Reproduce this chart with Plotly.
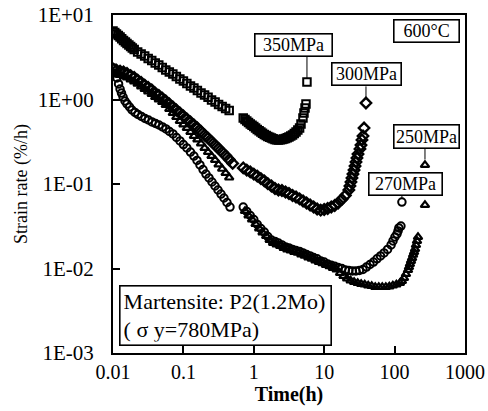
import plotly.graph_objects as go

# ---------------- data (time in h, strain rate in %/h) ----------------
t_350 = [0.0100, 0.0106, 0.0112, 0.0119, 0.0126, 0.0133, 0.0141, 0.0150, 0.0158, 0.0168,
         0.0178, 0.0188, 0.0200, 0.0224, 0.0251, 0.0282, 0.0316, 0.0355, 0.0398, 0.0447,
         0.0501, 0.0562, 0.0631, 0.0708, 0.0794, 0.0891, 0.100, 0.112, 0.126, 0.141,
         0.158, 0.178, 0.200, 0.224, 0.251, 0.282, 0.316, 0.355, 0.398, 0.447,
         0.708, 0.750, 0.794, 0.841, 0.891, 0.944, 1.00, 1.06, 1.12, 1.19,
         1.26, 1.33, 1.41, 1.50, 1.58, 1.68, 1.78, 1.88, 2.00, 2.11,
         2.24, 2.37, 2.51, 2.66, 2.82, 2.99, 3.16, 3.35, 3.55, 3.76,
         3.98, 4.22, 4.47, 4.68, 4.99, 5.16, 5.34, 5.51, 5.69]
r_350 = [6.47, 6.21, 5.96, 5.72, 5.49, 5.23, 4.99, 4.79, 4.60, 4.42,
         4.24, 4.07, 3.91, 3.65, 3.46, 3.27, 3.06, 2.89, 2.70, 2.56,
         2.39, 2.23, 2.12, 2.00, 1.87, 1.75, 1.66, 1.55, 1.44, 1.37,
         1.28, 1.19, 1.13, 1.06, 0.987, 0.934, 0.873, 0.826, 0.782, 0.741,
         0.604, 0.580, 0.557, 0.534, 0.513, 0.496, 0.479, 0.460, 0.442, 0.427,
         0.412, 0.399, 0.385, 0.375, 0.365, 0.357, 0.350, 0.343, 0.336, 0.334,
         0.332, 0.334, 0.336, 0.341, 0.345, 0.353, 0.360, 0.370, 0.380, 0.396,
         0.412, 0.435, 0.460, 0.513, 0.604, 0.692, 0.793, 0.885, 1.61]

t_300 = [0.0100, 0.0112, 0.0126, 0.0141, 0.0158, 0.0178, 0.0200, 0.0224, 0.0251, 0.0282,
         0.0316, 0.0355, 0.0398, 0.0447, 0.0501, 0.0562, 0.0631, 0.0708, 0.0794, 0.0891,
         0.100, 0.112, 0.126, 0.141, 0.158, 0.178, 0.200, 0.224, 0.251, 0.282,
         0.316, 0.355, 0.398, 0.447, 0.501,
         0.708, 0.794, 0.891, 1.00, 1.12, 1.26, 1.41, 1.58, 1.78, 2.00,
         2.24, 2.51, 2.82, 3.16, 3.55, 3.98, 4.47, 5.01, 5.62, 6.31,
         7.08, 7.94, 8.91, 10.0, 11.2, 12.6, 14.1, 15.8, 17.8, 20.0, 22.4,
         23.2, 24.0, 24.8, 25.6, 26.5, 27.4, 28.3, 29.2, 30.2, 32.2,
         33.3, 34.4, 35.6, 36.8, 39.2]
r_300 = [2.30, 2.23, 2.17, 2.12, 2.03, 1.92, 1.82, 1.70, 1.59, 1.48,
         1.39, 1.30, 1.19, 1.12, 1.04, 0.960, 0.885, 0.815, 0.751, 0.692,
         0.638, 0.588, 0.542, 0.499, 0.460, 0.418, 0.380, 0.350, 0.318, 0.289,
         0.263, 0.239, 0.217, 0.195, 0.175,
         0.155, 0.146, 0.139, 0.131, 0.124, 0.116, 0.109, 0.101, 0.0947, 0.0885,
         0.0849, 0.0838, 0.0804, 0.0772, 0.0731, 0.0702, 0.0665, 0.0629, 0.0596, 0.0564,
         0.0534, 0.0506, 0.0492, 0.0499, 0.0513, 0.0534, 0.0557, 0.0596, 0.0656, 0.0731, 0.0849,
         0.0947, 0.1056, 0.118, 0.131, 0.146, 0.163, 0.182, 0.203, 0.226, 0.260,
         0.289, 0.332, 0.370, 0.460, 0.909]

t_270 = [0.0103, 0.0109, 0.0114, 0.0120, 0.0126, 0.0132, 0.0139, 0.0148, 0.0158, 0.0172,
         0.0186, 0.0205, 0.0226, 0.0254, 0.0285, 0.0319, 0.0358, 0.0402, 0.0450, 0.0505,
         0.0566, 0.0635, 0.0712, 0.0798, 0.0895, 0.100, 0.112, 0.126, 0.141, 0.156,
         0.172, 0.190, 0.209, 0.231, 0.255, 0.281, 0.310, 0.342, 0.377, 0.416, 0.459,
         0.708, 0.794, 0.891, 1.00, 1.12, 1.26, 1.41, 1.58, 1.78, 2.00,
         2.24, 2.51, 2.82, 3.16, 3.55, 3.98, 4.47, 5.01, 5.62, 6.31,
         7.08, 7.94, 8.91, 10.0, 11.2, 12.6, 14.1,
         15.8, 17.8, 20.0, 22.4, 25.1, 28.2, 31.6, 35.5, 39.8, 44.7,
         50.1, 56.2, 63.1, 70.8, 79.4, 89.1, 94.9, 101, 108, 112, 115, 123, 127]
r_270 = [2.36, 2.06, 1.80, 1.53, 1.33, 1.19, 1.07, 0.960, 0.885, 0.815,
         0.751, 0.702, 0.665, 0.629, 0.596, 0.572, 0.542, 0.520, 0.499, 0.473,
         0.448, 0.418, 0.391, 0.355, 0.323, 0.293, 0.267, 0.239, 0.214, 0.190,
         0.168, 0.148, 0.131, 0.118, 0.1056, 0.0947, 0.0849, 0.0761, 0.0683, 0.0604, 0.0534,
         0.0534, 0.0473, 0.0424, 0.0380, 0.0332, 0.0297, 0.0270, 0.0239, 0.0217, 0.0209,
         0.0200, 0.0190, 0.0180, 0.0175, 0.0168, 0.0163, 0.0159, 0.0153, 0.0146, 0.0141,
         0.0135, 0.0130, 0.0123, 0.0119, 0.0113, 0.0109, 0.0106,
         0.01028, 0.0100, 0.00960, 0.00947, 0.00934, 0.00934, 0.00947, 0.00973, 0.0104, 0.01115,
         0.0119, 0.0130, 0.0141, 0.0153, 0.0168, 0.0190, 0.0212, 0.0236, 0.0256, 0.0278, 0.0302, 0.0318, 0.0612]

t_250 = [0.0100, 0.0112, 0.0126, 0.0141, 0.0158, 0.0178, 0.0200, 0.0224, 0.0251, 0.0282,
         0.0316, 0.0355, 0.0398, 0.0447, 0.0501, 0.0562, 0.0631, 0.0708, 0.0794, 0.0891,
         0.100, 0.112, 0.126, 0.141, 0.158, 0.178, 0.200, 0.224, 0.251, 0.282,
         0.316, 0.355, 0.398, 0.447,
         0.750, 0.841, 0.944, 1.06, 1.19, 1.33, 1.50, 1.68, 1.88, 2.11,
         2.37, 2.66, 2.99, 3.35, 3.76, 4.22, 4.73, 5.31, 5.96, 6.68,
         7.50, 8.41, 9.44, 10.6, 11.9, 13.3,
         15.0, 16.8, 18.8, 21.1, 23.7, 26.6, 29.9, 33.5, 37.6, 42.2,
         47.3, 53.1, 59.6, 66.8, 75.0, 84.1, 94.4, 106, 119,
         127, 136, 145, 155, 160, 165, 171, 177, 183, 189, 195, 201, 208, 215,
         270, 270]
r_250 = [2.06, 2.00, 1.95, 1.90, 1.82, 1.72, 1.63, 1.53, 1.42, 1.33,
         1.24, 1.16, 1.07, 1.00, 0.934, 0.861, 0.772, 0.692, 0.621, 0.557,
         0.506, 0.460, 0.412, 0.370, 0.336, 0.301, 0.267, 0.239, 0.214, 0.192,
         0.170, 0.151, 0.135, 0.119,
         0.0479, 0.0424, 0.0380, 0.0336, 0.0297, 0.0267, 0.0242, 0.0217, 0.0200, 0.0192,
         0.0185, 0.0175, 0.0168, 0.0163, 0.0157, 0.0153, 0.0146, 0.0141, 0.0135, 0.0130,
         0.0124, 0.0119, 0.0115, 0.0110, 0.0106, 0.0101,
         0.00973, 0.00885, 0.00815, 0.00761, 0.00721, 0.00692, 0.00674, 0.00656, 0.00647, 0.00629,
         0.00621, 0.00604, 0.00604, 0.00604, 0.00604, 0.00612, 0.00629, 0.00647, 0.00674,
         0.00711, 0.00772, 0.00861, 0.00960, 0.0104, 0.0113, 0.0123, 0.0133, 0.0145, 0.0157,
         0.0170, 0.0190, 0.0212, 0.0236,
         0.0564, 0.168]

x_ticks = [0.01, 0.1, 1, 10, 100, 1000]
x_ticktext = ["0.01", "0.1", "1", "10", "100", "1000"]
y_ticks = [0.001, 0.01, 0.1, 1, 10]
y_ticktext = ["1E-03", "1E-02", "1E-01", "1E+00", "1E+01"]

# pointer lines from label boxes to the final points: (time, rate_top, rate_bottom)
pointers = [(5.69, 3.27, 1.78), (39.2, 1.43, 1.03), (270, 0.267, 0.195), (127, 0.0721, 0.0665)]

FONT = "Liberation Serif"

fig = go.Figure()

series = [
    (t_350, r_350, "square-open", 7.5, 2.0),
    (t_300, r_300, "diamond-open", 8, 2.4),
    (t_270, r_270, "circle-open", 7.5, 2.0),
    (t_250, r_250, "triangle-up-open", 7.5, 2.2),
]
for t, r, sym, sz, lw in series:
    fig.add_trace(go.Scatter(x=t, y=r, mode="markers",
                             marker=dict(symbol=sym, size=sz, color="black",
                                         line=dict(width=lw, color="black")),
                             showlegend=False, hoverinfo="skip"))

for px_, ytop, ybot in pointers:
    fig.add_trace(go.Scatter(x=[px_, px_], y=[ytop, ybot], mode="lines",
                             line=dict(color="black", width=1),
                             showlegend=False, hoverinfo="skip"))

def px2paper(px_, py_):
    return (px_ - 113) / 352, (353 - py_) / 338

def box(text, cpx, cpy, w, h, size=18, align="center", pad=1):
    cx, cy = px2paper(cpx, cpy)
    fig.add_annotation(text=text, xref="paper", yref="paper", x=cx, y=cy,
                       xanchor="center", yanchor="middle", showarrow=False,
                       font=dict(family=FONT, size=size, color="black"),
                       bordercolor="black", borderwidth=1.6, borderpad=pad,
                       bgcolor="white", width=w, height=h, align=align)

box("350MPa", 293, 45, 74, 19)
box("300MPa", 366, 74, 66, 19)
box("600°C", 426, 31, 62, 19)
box("250MPa", 426, 136, 62, 20)
box("270MPa", 405, 184, 70, 19)
box("Martensite: P2(1.2Mo)<br>( σ y=780MPa)", 225, 315, 204, 52, size=22, align="left", pad=3)

axis_common = dict(type="log", showgrid=False, zeroline=False, showline=True,
                   linecolor="black", linewidth=2, mirror=True, automargin=False,
                   ticks="inside", ticklen=7, tickwidth=1.5, tickcolor="black")

fig.update_xaxes(**axis_common, range=[-2, 3], tickvals=x_ticks, ticktext=x_ticktext,
                 tickfont=dict(family=FONT, size=20, color="black"),
                 title=dict(text="<b>Time(h)</b>", font=dict(family=FONT, size=20, color="black"),
                            standoff=1))
fig.update_yaxes(**axis_common, range=[-3, 1], tickvals=y_ticks, ticktext=y_ticktext,
                 tickfont=dict(family=FONT, size=21, color="black"),
                 ticklabelstandoff=13,
                 title=dict(text="Strain rate (%/h)", font=dict(family=FONT, size=18, color="black"),
                            standoff=5))

fig.update_layout(width=488, height=411, margin=dict(l=113, r=23, t=15, b=58),
                  plot_bgcolor="white", paper_bgcolor="white")

fig.write_html("out.html")
